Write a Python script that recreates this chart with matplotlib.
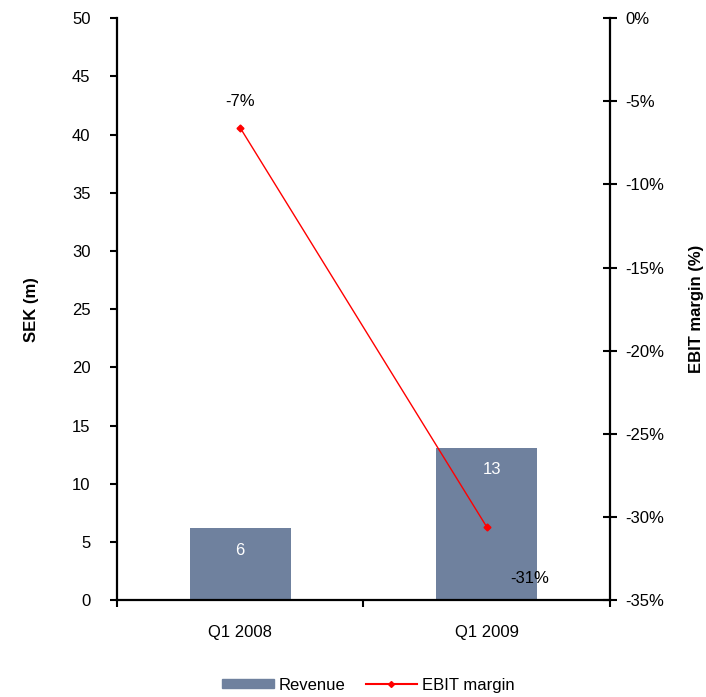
import matplotlib.pyplot as plt
from matplotlib.lines import Line2D
from matplotlib.patches import Patch

plt.rcParams['font.family'] = ['Liberation Sans', 'DejaVu Sans']

quarters = ['Q1 2008', 'Q1 2009']
revenue = [6.2, 13.1]
revenue_labels = ['6', '13']
ebit_margin = [-6.6, -30.6]
ebit_labels = ['-7%', '-31%']

bar_color = '#6f819e'
line_color = '#ff0000'
fs = 12

fig = plt.figure(figsize=(7.06, 6.97), dpi=100)
ax = fig.add_axes([0.1657, 0.139, 0.6983, 0.835])
x = range(len(quarters))

ax.bar(x, revenue, width=0.41, color=bar_color, zorder=2)
ax.set_xlim(-0.5, 1.5)
ax.set_ylim(0, 50)
ax.set_yticks(range(0, 51, 5))
ax.set_xticks([-0.5, 0.5, 1.5], minor=False)
ax.set_xticklabels([])
ax.set_xticks(list(x), minor=True)
ax.set_xticklabels(quarters, minor=True)
ax.tick_params(axis='x', which='minor', length=0, pad=18, labelsize=fs)
ax.tick_params(axis='x', which='major', direction='out', length=5, width=1.5)
ax.tick_params(axis='y', direction='out', length=5, width=1.5, labelsize=fs, pad=14)
for side in ['top', 'right']:
    ax.spines[side].set_visible(False)
for side in ['left', 'bottom']:
    ax.spines[side].set_linewidth(1.6)
ax.set_ylabel('SEK (m)', fontsize=fs, fontweight='bold', labelpad=24)

for xi, v, lab in zip(x, revenue, revenue_labels):
    ax.annotate(lab, (xi, v), xytext=(4 if v > 10 else 0, -16), textcoords='offset points',
                color='white', ha='center', va='center', fontsize=fs)

ax2 = ax.twinx()
ax2.plot(x, ebit_margin, color=line_color, lw=1.0, marker='D', ms=3.5, zorder=3)
ax2.set_ylim(-35, 0)
ax2.set_yticks(range(-35, 1, 5))
ax2.set_yticklabels([f'{t}%' for t in range(-35, 1, 5)])
ax2.tick_params(axis='y', direction='inout', length=10, width=1.5, labelsize=fs, pad=6)
for side in ['top', 'left', 'bottom']:
    ax2.spines[side].set_visible(False)
ax2.spines['right'].set_linewidth(1.6)
ax2.set_ylabel('EBIT margin (%)', fontsize=fs, fontweight='bold', labelpad=18)

ax2.annotate(ebit_labels[0], (x[0], ebit_margin[0]), xytext=(0, 19),
             textcoords='offset points', ha='center', va='center', fontsize=fs)
ax2.annotate(ebit_labels[1], (x[1], ebit_margin[1]), xytext=(31, -37),
             textcoords='offset points', ha='center', va='center', fontsize=fs)

handles = [Patch(color=bar_color, label='Revenue'),
           Line2D([], [], color=line_color, lw=1.5, marker='D', ms=3, label='EBIT margin')]
fig.legend(handles=handles, loc='center', bbox_to_anchor=(0.522, 0.017), ncol=2,
           frameon=False, fontsize=fs, handlelength=3.1, handleheight=0.5,
           columnspacing=1.2, handletextpad=0.3)

fig.savefig('out.png', dpi=100)
